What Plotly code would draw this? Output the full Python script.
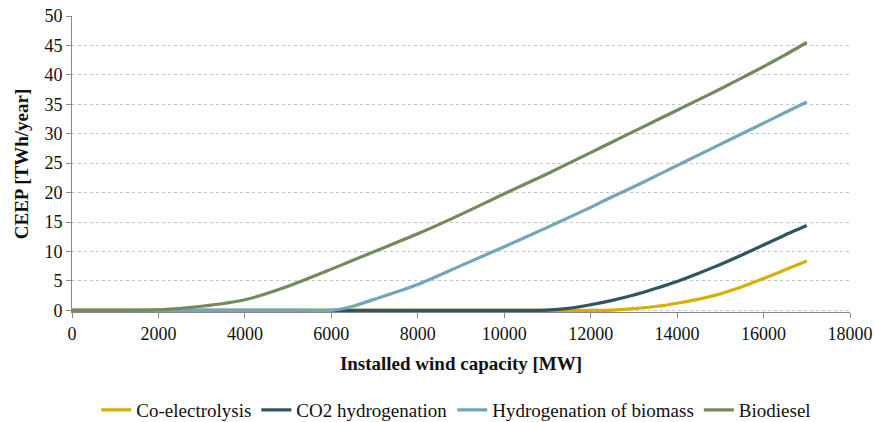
import plotly.graph_objects as go

capacity = [0, 1000, 2000, 3000, 4000, 5000, 6000, 6500, 7000, 8000, 9000, 10000, 11000, 11500,
            12000, 12500, 13000, 13500, 14000, 14500, 15000, 15500, 16000, 16500, 17000]

co_electrolysis = [0, 0, 0, 0, 0, 0, 0, 0, 0, 0, 0, 0, 0, 0,
                   0, 0.05, 0.3, 0.65, 1.2, 1.9, 2.8, 4.0, 5.4, 6.9, 8.4]
co2_hydrogenation = [0, 0, 0, 0, 0, 0, 0, 0, 0, 0, 0, 0, 0.05, 0.35,
                     0.95, 1.7, 2.6, 3.7, 4.9, 6.3, 7.8, 9.4, 11.1, 12.8, 14.4]
hydrogenation_biomass = [0, 0, 0, 0, 0, 0, 0, 0.7, 1.9, 4.4, 7.6, 10.8, 14.1, 15.8,
                         17.5, 19.3, 21.0, 22.8, 24.6, 26.4, 28.2, 30.0, 31.8, 33.6, 35.4]
biodiesel = [0, 0, 0.1, 0.7, 1.8, 4.1, 7.0, 8.5, 10.0, 13.0, 16.3, 19.8, 23.2, 25.0,
             26.8, 28.6, 30.4, 32.2, 34.0, 35.8, 37.6, 39.5, 41.4, 43.4, 45.5]

series = [
    ("Co-electrolysis", co_electrolysis, "#d4b106"),
    ("CO2 hydrogenation", co2_hydrogenation, "#2f5560"),
    ("Hydrogenation of biomass", hydrogenation_biomass, "#72a6b8"),
    ("Biodiesel", biodiesel, "#748a5c"),
]

x_ticks = list(range(0, 18001, 2000))
x_ticktext = [str(v) for v in x_ticks]
y_ticks = list(range(0, 51, 5))

fig = go.Figure()
for name, vals, color in series:
    fig.add_trace(go.Scatter(x=capacity, y=vals, name=name, mode="lines",
                             line=dict(color=color, width=3.2, shape="spline", smoothing=0.6)))

ff = "Liberation Serif"
fs = 19
tfs = 18
fig.update_layout(
    width=874, height=422,
    margin=dict(l=72, r=24, t=16, b=110, autoexpand=False),
    paper_bgcolor="white", plot_bgcolor="white",
    font=dict(family=ff, size=fs, color="#111"),
    xaxis=dict(range=[0, 18000], tickvals=x_ticks, ticktext=x_ticktext, ticks="outside", ticklen=5,
               tickcolor="#888", showline=True, linecolor="#888", linewidth=1,
               showgrid=False, zeroline=False, automargin=False, ticklabeloverflow="allow",
               title=dict(text="<b>Installed wind capacity [MW]</b>", font=dict(family=ff, size=fs), standoff=14),
               tickfont=dict(family=ff, size=tfs)),
    yaxis=dict(range=[-0.28, 50], tickvals=y_ticks, ticks="outside", ticklen=5,
               tickcolor="#888", showline=True, linecolor="#888", linewidth=1,
               showgrid=True, gridcolor="#c4c4c4", griddash="dot", gridwidth=1,
               zeroline=False, automargin=False, ticklabeloverflow="allow",
               title=dict(text="<b>CEEP [TWh/year]</b>", font=dict(family=ff, size=fs), standoff=10),
               tickfont=dict(family=ff, size=tfs)),
    legend=dict(orientation="h", x=0.494, xanchor="center", y=-0.331, yanchor="middle",
                font=dict(family=ff, size=fs), itemwidth=30, traceorder="normal"),
    showlegend=True,
)

fig.write_html("out.html", config={"displayModeBar": False},
               post_script="document.body.style.margin='0';")
